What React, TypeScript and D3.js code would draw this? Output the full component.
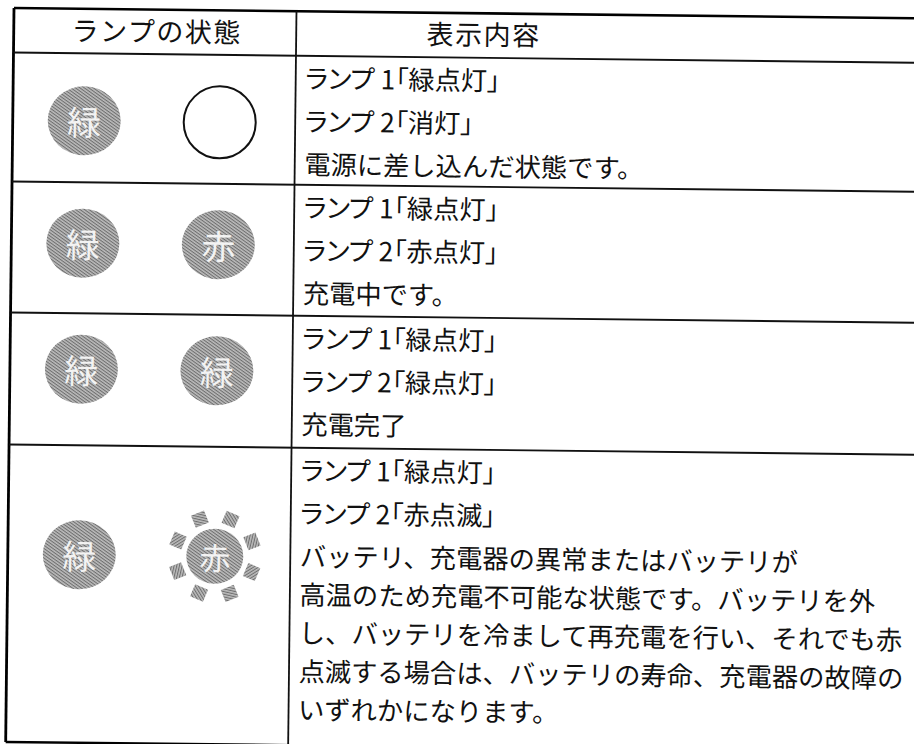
import React from "react";
import * as d3 from "d3";

// ---- data ----
const headerLabels = ["ランプの状態", "表示内容"];
const lamp1Labels = ["緑", "緑", "緑", "緑"];
const lamp2Labels = ["", "赤", "緑", "赤"];
const lamp2Modes = ["off", "on", "on", "blink"];
const row1Lines = ["ランプ 1「緑点灯」", "ランプ 2「消灯」", "電源に差し込んだ状態です。"];
const row2Lines = ["ランプ 1「緑点灯」", "ランプ 2「赤点灯」", "充電中です。"];
const row3Lines = ["ランプ 1「緑点灯」", "ランプ 2「緑点灯」", "充電完了"];
const row4Lines = [
  "ランプ 1「緑点灯」",
  "ランプ 2「赤点滅」",
  "バッテリ、充電器の異常またはバッテリが",
  "高温のため充電不可能な状態です。バッテリを外",
  "し、バッテリを冷まして再充電を行い、それでも赤",
  "点滅する場合は、バッテリの寿命、充電器の故障の",
  "いずれかになります。",
];
const descriptions = [row1Lines, row2Lines, row3Lines, row4Lines];

// ---- layout ----
const W = 914;
const H = 744;
const ORIGIN_X = 14;
const ORIGIN_Y = 8;
const TILT = 0.65;
const TABLE_W = 980;
const HEADER_H = 44.5;
const ROW_H = [129, 131, 132, 297.5];
const LAMP_DY = [67.5, 61, 56, 109.5];
const COL_X = 282.5;
const TEXT_X = 292;
const FONT = "'Noto Sans CJK JP', 'Noto Sans', sans-serif";
const FS = 26.3;

const rowTops = [HEADER_H, ...Array.from(d3.cumsum(ROW_H)).map((v) => v + HEADER_H)];
const tableBottom = rowTops[rowTops.length - 1];

const lampX = d3.scalePoint<string>().domain(["l1", "l2"]).range([71.5, 207]);

function lineY(top: number, k: number) {
  return top + 21 + 43 * Math.min(k, 2) + 38.3 * Math.max(k - 2, 0);
}

function Lamp({ cx, cy, label, mode }: { cx: number; cy: number; label: string; mode: string }) {
  if (mode === "off") {
    return <circle cx={cx} cy={cy} r={36} fill="none" stroke="#111" strokeWidth={2} />;
  }
  const blink = mode === "blink";
  const rx = blink ? 28.5 : 36.5;
  const ry = blink ? 27.5 : 34.5;
  const rays = blink ? d3.range(8).map((k) => 22.5 + 45 * k) : [];
  return (
    <g>
      {rays.map((a) => {
        const rad = (a * Math.PI) / 180;
        const R = 40;
        const x = cx + R * Math.sin(rad);
        const y = cy - R * Math.cos(rad);
        return (
          <rect
            key={a}
            x={-7}
            y={-6.5}
            width={14}
            height={13}
            fill="url(#ht)"
            transform={`translate(${x},${y}) rotate(${a})`}
          />
        );
      })}
      <ellipse cx={cx} cy={cy} rx={rx} ry={ry} fill="url(#ht)" />
      <text
        x={cx}
        y={cy}
        textAnchor="middle"
        dominantBaseline="central"
        fontFamily={FONT}
        fontSize={blink ? 31 : 34}
        fill="#f3f3f3"
      >
        {label}
      </text>
    </g>
  );
}

export default function App() {
  return (
    <svg width={W} height={H} style={{ position: "absolute", left: 0, top: 0, background: "#fff" }}>
      <defs>
        <pattern id="ht" width="2.6" height="2.6" patternUnits="userSpaceOnUse" patternTransform="rotate(35)">
          <rect width="2.6" height="2.6" fill="#bcbcbc" />
          <rect width="2.6" height="1.05" fill="#6e6e6e" />
        </pattern>
      </defs>
      <rect width={W} height={H} fill="#fff" />
      <g transform={`rotate(${TILT}, ${ORIGIN_X}, ${ORIGIN_Y}) translate(${ORIGIN_X}, ${ORIGIN_Y})`}>
        {/* outer lines */}
        <line x1={0} y1={0} x2={TABLE_W} y2={0} stroke="#000" strokeWidth={2.6} />
        <line x1={0} y1={0} x2={0} y2={tableBottom} stroke="#000" strokeWidth={2.8} />
        <line x1={0} y1={tableBottom} x2={TABLE_W} y2={tableBottom} stroke="#000" strokeWidth={2.4} />
        {/* column divider */}
        <line x1={COL_X} y1={0} x2={COL_X} y2={tableBottom} stroke="#111" strokeWidth={1.8} />
        {/* row lines */}
        {rowTops.slice(0, -1).map((y, i) => (
          <line key={i} x1={0} y1={y} x2={TABLE_W} y2={y} stroke="#111" strokeWidth={1.9} />
        ))}
        {/* header */}
        <text x={143} y={20.5} textAnchor="middle" dominantBaseline="central" fontFamily={FONT} fontSize={27} letterSpacing={1.5} fill="#111">
          {headerLabels[0]}
        </text>
        <text x={470} y={20} textAnchor="middle" dominantBaseline="central" fontFamily={FONT} fontSize={27} letterSpacing={1.5} fill="#111">
          {headerLabels[1]}
        </text>
        {/* rows */}
        {descriptions.map((lines, r) => {
          const top = rowTops[r];
          const cy = top + LAMP_DY[r];
          return (
            <g key={r}>
              <Lamp cx={lampX("l1")!} cy={cy} label={lamp1Labels[r]} mode="on" />
              <Lamp cx={lampX("l2")!} cy={cy} label={lamp2Labels[r]} mode={lamp2Modes[r]} />
              <text fontFamily={FONT} fontSize={FS} fill="#111">
                {lines.map((t, k) => (
                  <tspan
                    key={k}
                    x={TEXT_X}
                    y={lineY(top, k)}
                    dominantBaseline="central"
                    style={t.startsWith("ランプ") ? { fontFeatureSettings: '"palt"' } : undefined}
                  >
                    {t}
                  </tspan>
                ))}
              </text>
            </g>
          );
        })}
      </g>
    </svg>
  );
}
